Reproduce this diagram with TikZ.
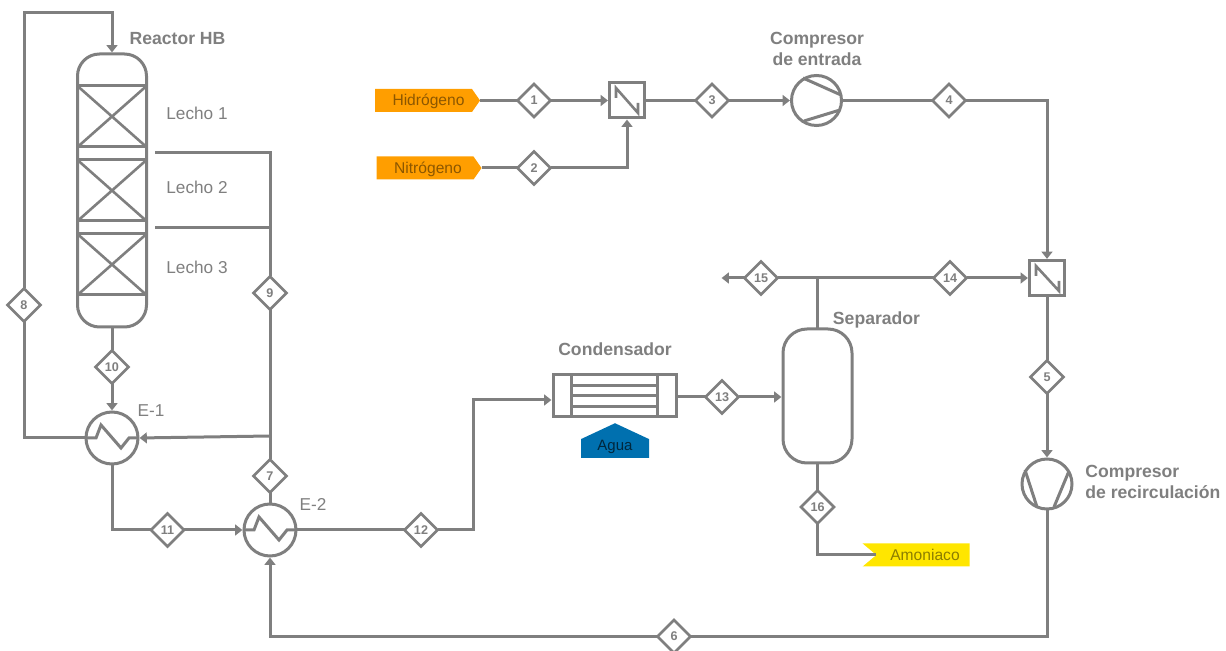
\documentclass[tikz,border=0pt]{standalone}
\usepackage{fontspec}
\setmainfont{Liberation Sans}
\usetikzlibrary{positioning, arrows.meta, shapes, shapes.geometric}

\definecolor{linegray}{HTML}{7F7F7F}
\definecolor{feedorange}{HTML}{FF9E00}
\definecolor{prodyellow}{HTML}{FFE600}
\definecolor{waterblue}{HTML}{0070AF}

\tikzset{
    pipe/.style={draw=linegray, line width=1.5pt},
    flow/.style={pipe, -{Triangle[length=3.6pt,width=5.4pt]}, shorten >=0.8pt},
    stream/.style={diamond, draw=linegray, line width=1.4pt, fill=white, aspect=1, inner sep=0pt, outer sep=0pt, minimum size=16.5pt, text=linegray, font=\bfseries\fontsize{6.3}{7}\selectfont},
    mixer/.style={rectangle, draw=linegray, line width=1.5pt, inner sep=0pt, outer sep=0pt, minimum size=17.5pt},
    machine/.style={circle, draw=linegray, line width=1.5pt, inner sep=0pt, outer sep=0pt, minimum size=25pt},
    bed/.style={rectangle, draw=linegray, line width=1.5pt, inner sep=0pt, outer sep=0pt, minimum width=34.5pt, minimum height=30.5pt},
    feedtag/.style={signal, signal to=east, signal pointer angle=110, fill=feedorange, inner sep=0pt, outer sep=0pt, minimum width=52.5pt, minimum height=11.5pt, text height=5.5pt, text depth=0pt, text=feedorange!55!black, font=\fontsize{7.8}{9}\selectfont},
    prodtag/.style={signal, signal from=west, signal to=nowhere, signal pointer angle=80, fill=prodyellow, inner sep=0pt, outer sep=0pt, minimum width=53.5pt, minimum height=11.5pt, text height=5.5pt, text depth=0pt, text=prodyellow!55!black, font=\fontsize{7.8}{9}\selectfont},
    watertag/.style={signal, signal to=north, signal pointer angle=130, fill=waterblue, inner sep=0pt, outer sep=0pt, minimum width=34pt, minimum height=13.5pt, text height=2.2pt, text depth=0pt, text=waterblue!35!black, font=\fontsize{7.5}{9}\selectfont},
    namelabel/.style={text=linegray, font=\bfseries\fontsize{8.8}{10.5}\selectfont, inner sep=0pt},
    plainlabel/.style={text=linegray, font=\fontsize{8.6}{10.5}\selectfont, inner sep=0pt}
}

\begin{document}
\begin{tikzpicture}[x=0.5pt, y=-0.5pt]
    \useasboundingbox (0,0) rectangle (1226,651);

    % reactor
    \node[rectangle, draw=linegray, line width=1.5pt, rounded corners=11pt, inner sep=0pt, outer sep=0pt, minimum width=34.5pt, minimum height=136.5pt] (reactor) at (112,190.5) {};
    \node[bed] (bedA) at (112,116.5) {};
    \node[bed] (bedB) at (112,190.5) {};
    \node[bed] (bedC) at (112,264.5) {};
    \draw[pipe, line width=1.3pt] (bedA.north west) -- (bedA.south east) (bedA.south west) -- (bedA.north east);
    \draw[pipe, line width=1.3pt] (bedB.north west) -- (bedB.south east) (bedB.south west) -- (bedB.north east);
    \draw[pipe, line width=1.3pt] (bedC.north west) -- (bedC.south east) (bedC.south west) -- (bedC.north east);

    % equipment
    \node[mixer] (mixerA) at (627,100.5) {};
    \node[mixer] (mixerB) at (1047,278) {};
    \draw[pipe, line width=1.3pt] (616,98) -- (616,88) -- (638,113) -- (638,103);
    \draw[pipe, line width=1.3pt] (1036,276) -- (1036,266) -- (1059,291) -- (1059,281);

    \node[machine] (compA) at (816.5,100.5) {};
    \node[machine] (compB) at (1047,484) {};
    \draw[pipe] (803,78) -- (841,95) (804,121) -- (840,110);
    \draw[pipe] (1025,470) -- (1037,507) (1069,471) -- (1054,507);

    \node[machine, minimum size=26pt] (exA) at (112,438) {};
    \node[machine, minimum size=26pt] (exB) at (270,530) {};
    \draw[pipe] (86,438) -- (96,438) -- (101,425) -- (121,448) -- (129,438) -- (138,438);
    \draw[pipe] (244,530) -- (254,530) -- (259,517) -- (279,540) -- (287,530) -- (296,530);

    \node[rectangle, draw=linegray, line width=1.5pt, inner sep=0pt, outer sep=0pt, minimum width=61.5pt, minimum height=21pt] (cond) at (614.5,396) {};
    \draw[pipe] (571,375) -- (571,417) (657,375) -- (657,417);
    \draw[pipe] (571,386) -- (657,386) (571,396) -- (657,396) (571,407) -- (657,407);

    \node[rectangle, draw=linegray, line width=1.5pt, rounded corners=12pt, inner sep=0pt, outer sep=0pt, minimum width=34.5pt, minimum height=67pt] (sep) at (817.5,396) {};

    % feeds and products
    \node[feedtag] (hydro) at (423.5,100.5) {\hspace*{5pt}Hidrógeno};
    \node[feedtag] (nitro) at (425,168) {\hspace*{3pt}Nitrógeno};
    \node[prodtag] (ammonia) at (923,555) {\hspace*{2pt}Amoniaco};
    \node[watertag] (water) at (615,448.5) {Agua};

    % stream numbers
    \node[stream] (s1) at (534,100.5) {1};
    \node[stream] (s2) at (534,168) {2};
    \node[stream] (s3) at (712,100.5) {3};
    \node[stream] (s4) at (949,100.5) {4};
    \node[stream] (s5) at (1047,377) {5};
    \node[stream] (s6) at (674,636.5) {6};
    \node[stream] (s7) at (270,476) {7};
    \node[stream] (s8) at (24,305) {8};
    \node[stream] (s9) at (270,293) {9};
    \node[stream] (s10) at (112,367) {10};
    \node[stream] (s11) at (167.5,530) {11};
    \node[stream] (s12) at (421,530) {12};
    \node[stream] (s13) at (722,397) {13};
    \node[stream] (s14) at (950,278) {14};
    \node[stream] (s15) at (761,278) {15};
    \node[stream] (s16) at (817.5,507) {16};

    % free ends and junctions
    \coordinate (cornerA) at (24,13);
    \coordinate (tapA) at (155,153);
    \coordinate (tapB) at (155,228);
    \coordinate (jctA) at (270,153);
    \coordinate (jctB) at (270,228);
    \coordinate (jctC) at (270,436);
    \coordinate (cornerB) at (473,400);
    \coordinate (condIn) at (553,400);
    \coordinate (condOut) at (676,397);
    \coordinate (sepIn) at (783,397);
    \coordinate (jctD) at (817.5,278);
    \coordinate (ventEnd) at (720,278);
    \coordinate (cornerC) at (1047,100.5);
    \coordinate (cornerD) at (270,636.5);
    \coordinate (cornerE) at (1047,636.5);
    \coordinate (cornerF) at (817.5,555);
    \coordinate (nitroIn) at (627,168);

    % connectors
    \draw[pipe] (hydro.east) -- (s1.west);
    \draw[flow] (s1.east) -- (mixerA.west);
    \draw[pipe] (nitro.east) -- (s2.west);
    \draw[flow] (s2.east) -- (nitroIn) -- (mixerA.south);
    \draw[pipe] (mixerA.east) -- (s3.west);
    \draw[flow] (s3.east) -- (compA.west);
    \draw[pipe] (compA.east) -- (s4.west);
    \draw[flow] (s4.east) -- (cornerC) -- (mixerB.north);
    \draw[pipe] (mixerB.south) -- (s5.north);
    \draw[flow] (s5.south) -- (compB.north);
    \draw[pipe] (compB.south) -- (cornerE) -- (s6.east);
    \draw[flow] (s6.west) -- (cornerD) -- (exB.south);
    \draw[pipe] (tapA) -- (jctA) -- (s9.north);
    \draw[pipe] (tapB) -- (jctB);
    \draw[pipe] (s9.south) -- (s7.north);
    \draw[pipe] (s7.south) -- (exB.north);
    \draw[flow] (jctC) -- (exA.east);
    \draw[pipe] (exA.west) -| (s8.south);
    \draw[flow] (s8.north) -- (cornerA) -| (reactor.north);
    \draw[pipe] (reactor.south) -- (s10.north);
    \draw[flow] (s10.south) -- (exA.north);
    \draw[pipe] (exA.south) |- (s11.west);
    \draw[flow] (s11.east) -- (exB.west);
    \draw[pipe] (exB.east) -- (s12.west);
    \draw[flow] (s12.east) -| (cornerB) -- (condIn);
    \draw[pipe] (condOut) -- (s13.west);
    \draw[flow] (s13.east) -- (sepIn);
    \draw[pipe] (sep.north) -- (jctD);
    \draw[flow] (s14.east) -- (mixerB.west);
    \draw[pipe] (s14.west) -- (s15.east);
    \draw[flow] (s15.west) -- (ventEnd);
    \draw[pipe] (sep.south) -- (s16.north);
    \draw[pipe] (s16.south) -- (cornerF) -- (ammonia.west);

    % labels
    \node[namelabel] (labReactor) at (177.5,38.5) {Reactor HB};
    \node[plainlabel] (labBedA) at (197,113) {Lecho 1};
    \node[plainlabel] (labBedB) at (197,187) {Lecho 2};
    \node[plainlabel] (labBedC) at (197,267) {Lecho 3};
    \node[plainlabel] (labExA) at (151,411) {E-1};
    \node[plainlabel] (labExB) at (313,504) {E-2};
    \node[namelabel] (labCond) at (615,349) {Condensador};
    \node[namelabel, align=center] (labCompA) at (817,48.5) {Compresor\\de entrada};
    \node[namelabel] (labSep) at (876.5,320) {Separador};
    \node[namelabel, align=left, anchor=west] (labCompB) at (1085,481.5) {Compresor\\de recirculación};
\end{tikzpicture}
\end{document}
